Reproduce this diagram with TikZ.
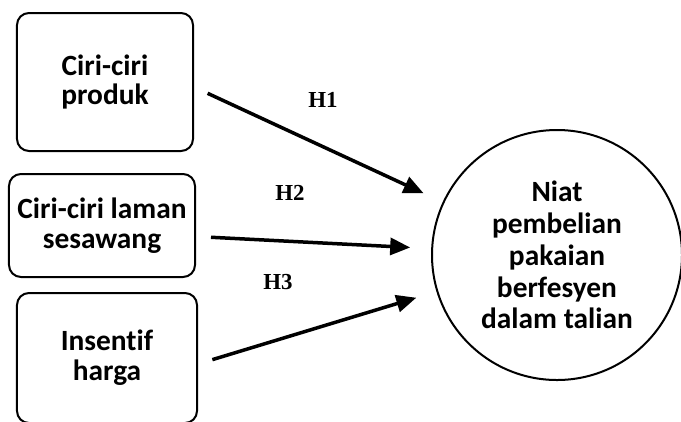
\documentclass[tikz,border=0pt]{standalone}
\usepackage{fontspec}
\setmainfont{Carlito}[Ligatures=NoCommon]
\newfontfamily\hypfont{Liberation Serif}
\usetikzlibrary{arrows.meta}

\tikzset{
  varbox/.style={draw,line width=2bp,rounded corners=12bp,align=center,inner sep=2bp,
    font=\bfseries\fontsize{29.5}{30}\selectfont},
  goalcircle/.style={draw,circle,line width=2bp,align=center,inner sep=1bp,
    font=\bfseries\fontsize{29.5}{32}\selectfont},
  hyparrow/.style={line width=3.5bp,-{Triangle[length=20bp,width=17bp]},
    shorten <=15bp,shorten >=21bp},
  hyplabel/.style={font=\hypfont\bfseries\fontsize{23}{25}\selectfont}
}

\begin{document}
\begin{tikzpicture}[x=1bp,y=-1bp]
	\useasboundingbox (0,0) rectangle (681,421);
	% independent variables
	\node[varbox,minimum width=176bp,minimum height=138bp] (produk) at (105,82) {Ciri-ciri\\produk};
	\node[varbox,minimum width=186bp,minimum height=103bp] (laman) at (102,225.5) {Ciri-ciri laman\\sesawang};
	\node[varbox,minimum width=180bp,minimum height=130bp] (harga) at (107,358) {Insentif\\harga};
	% dependent variable
	\node[goalcircle,minimum size=250bp] (niat) at (557,255) {Niat\\pembelian\\pakaian\\berfesyen\\dalam talian};
	% hypotheses
	\draw[hyparrow] ([yshift=-5bp]produk.east) -- (niat);
	\draw[hyparrow] ([yshift=-11bp]laman.east) -- (niat);
	\draw[hyparrow] ([yshift=-6bp]harga.east) -- (niat);
	\node[hyplabel] (h1) at (323,100) {H1};
	\node[hyplabel] (h2) at (290,193) {H2};
	\node[hyplabel] (h3) at (278,282) {H3};
\end{tikzpicture}
\end{document}
